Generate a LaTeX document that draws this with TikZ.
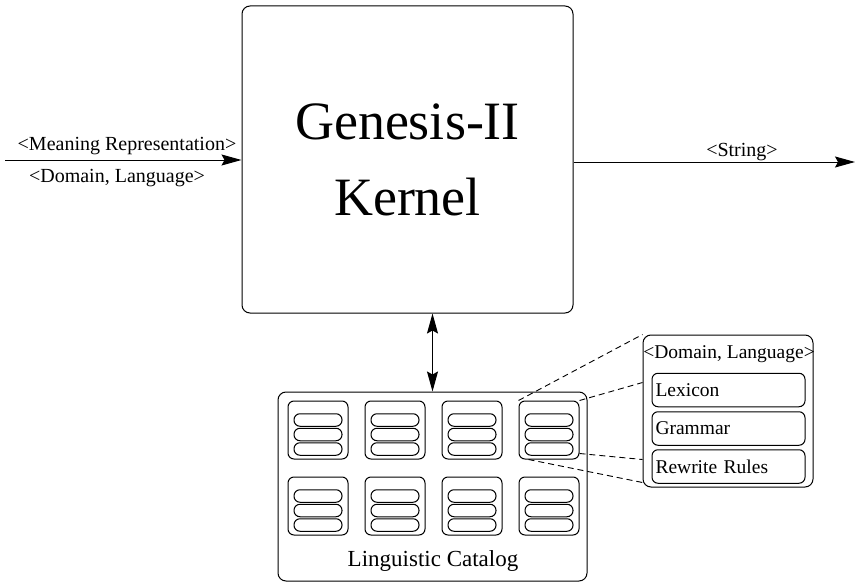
\documentclass[tikz,border=0pt]{standalone}
\usepackage{fontspec}
\setmainfont{LiberationSerif-Regular.ttf}
\usetikzlibrary{arrows.meta,calc}
\begin{document}
\begin{tikzpicture}[x=1pt,y=-1pt,
  line width=1pt,
  tip/.style={-{Stealth[length=20pt,width=11pt,inset=3pt]}},
  dtip/.style={{Stealth[length=20pt,width=11pt,inset=3pt]}-{Stealth[length=20pt,width=11pt,inset=3pt]}},
  bigbox/.style={draw,rounded corners=8pt,inner sep=0pt},
  smallbox/.style={draw,rounded corners=6pt,minimum width=60pt,minimum height=58pt,inner sep=0pt},
  pill/.style={draw,rounded corners=6pt,minimum width=48pt,minimum height=12.5pt,inner sep=0pt},
  subbox/.style={draw,rounded corners=6pt,minimum width=153pt,minimum height=33.5pt,inner sep=0pt,text width=146pt,align=left,font=\fontsize{19.5}{23}\selectfont},
  lbl/.style={anchor=base,inner sep=0pt,font=\fontsize{20}{24}\selectfont},
  dline/.style={dashed,dash pattern=on 6pt off 4pt,line width=0.9pt}]
\useasboundingbox (0,0) rectangle (856,583);

% Kernel
\node[bigbox,minimum width=331pt,minimum height=307pt,align=center,
  font=\fontsize{54}{76}\selectfont] (kernel) at (407.5,159.5) {Genesis-II\\Kernel};

% input
\coordinate (in) at (5,160);
\draw[tip] (in) -- (in -| kernel.west);
\node[lbl] (l1) at (127,150) {<Meaning Representation>};
\node[lbl] (l2) at (117,182) {<Domain, Language>};

% output
\coordinate (out) at (855,162);
\draw[tip] (out -| kernel.east) -- (out);
\node[lbl] (l3) at (742,157) {<String>};

% catalog
\node[bigbox,minimum width=309pt,minimum height=189pt] (catalog) at (432.5,486.5) {};
\node[lbl,font=\fontsize{23}{27}\selectfont] (cattitle) at (433,566) {Linguistic Catalog};
\draw[dtip] (catalog.north) -- (catalog.north |- kernel.south);

\foreach \r/\cy in {1/430,2/506}{
  \foreach \c/\cx in {1/318,2/395,3/472,4/549}{
    \node[smallbox] (s\r\c) at (\cx,\cy) {};
    \node[pill] (p\r\c a) at (\cx,\cy-10) {};
    \node[pill] (p\r\c b) at (\cx,\cy+4.5) {};
    \node[pill] (p\r\c c) at (\cx,\cy+19) {};
  }
}

% detail
\node[bigbox,minimum width=170pt,minimum height=152pt] (detail) at (728,411) {};
\node[lbl,font=\fontsize{19.5}{23}\selectfont] (dtitle) at (729,358) {<Domain, Language>};
\node[subbox] (lex) at (728.5,390) {Lexicon};
\node[subbox] (gram) at (728.5,428.5) {Grammar};
\node[subbox] (rew) at (728.5,466.5) {Rewrite Rules};

% dashed
\draw[dline] (s14.north west) -- (detail.north west);
\draw[dline] (s14.north east) -- ($(detail.north west)+(0,48)$);
\draw[dline] ($(s14.south east)+(0,-6)$) -- ($(detail.north west)+(0,125)$);
\draw[dline] ($(s14.south west)+(10,0)$) -- ($(detail.south west)+(0,-5)$);
\end{tikzpicture}
\end{document}
